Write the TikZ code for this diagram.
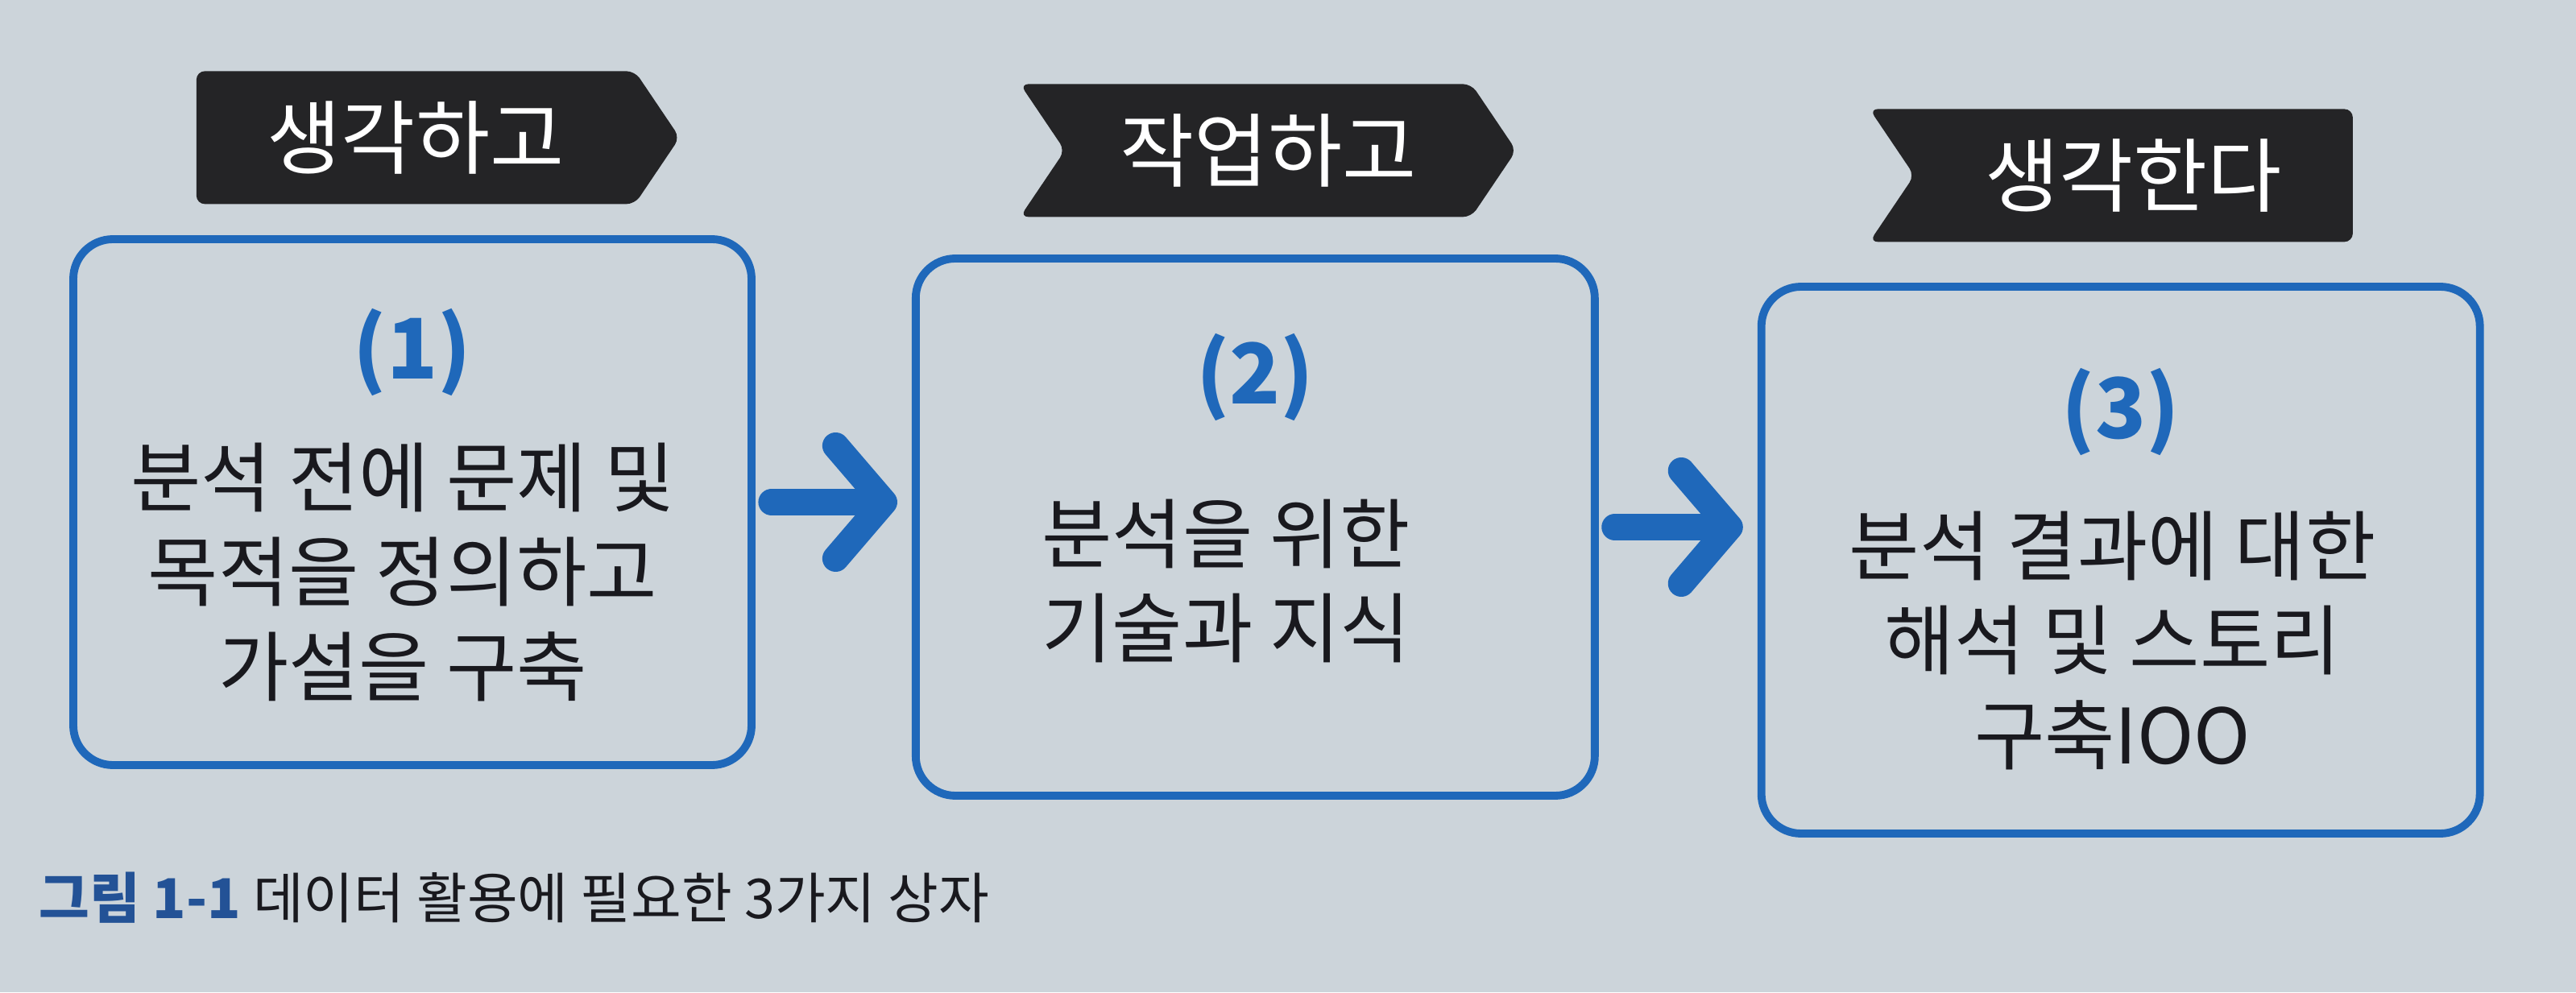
\documentclass[tikz,border=0pt]{standalone}
\usepackage{fontspec}
\setmainfont{Noto Sans CJK KR}
\definecolor{pagebg}{RGB}{204, 212, 218}
\definecolor{boxblue}{RGB}{31, 104, 186}
\definecolor{tagblack}{RGB}{36, 36, 38}
\definecolor{capblue}{RGB}{35, 82, 150}
\definecolor{inkblack}{RGB}{25, 25, 30}
\usetikzlibrary{arrows.meta, positioning, shapes.symbols}
\tikzset{
	stepbox/.style={rectangle, rounded corners=14pt, draw=boxblue, line width=2.8pt, minimum width=8.42cm, minimum height=6.6cm, inner sep=0pt},
	tag/.style={signal, signal to=east, signal pointer angle=112, fill=tagblack, text=white, minimum width=6cm, minimum height=1.65cm, inner sep=0pt, rounded corners=3pt, font=\fontsize{28.5}{32}\selectfont},
	number/.style={text=boxblue, font=\fontsize{29.5}{34}\selectfont\bfseries},
	bodytext/.style={align=center, text=inkblack, font=\fontsize{27}{33.5}\selectfont},
	arrow/.style={-{Straight Barb[length=6mm, width=14mm, round]}, line width=9.4pt, line cap=round, draw=boxblue},
	capt/.style={anchor=west, text=inkblack, font=\fontsize{19.4}{22}\selectfont},
}

\begin{document}
\begin{tikzpicture}
		\fill[pagebg] (0,0) rectangle (31.98,12.32);
		\useasboundingbox (0,0) rectangle (31.98,12.32);
		\node[stepbox, minimum height=6.53cm] (box1) at (5.12,6.085) {};
		\node[stepbox, right=1.94cm of box1, yshift=-3.1mm, minimum width=8.43cm, minimum height=6.67cm] (box2) {};
		\node[stepbox, right=1.97cm of box2, yshift=-4.1mm, minimum width=8.92cm, minimum height=6.79cm] (box3) {};
		\node[tag, above=3.8mm of box1, xshift=0.4mm] (think) {생각하고};
		\node[tag, signal from=west, minimum width=6.16cm, above=4.6mm of box2, xshift=1.6mm] (work) {작업하고};
		\node[tag, signal to=nowhere, signal from=west, above=5mm of box3, xshift=1.6mm] (rethink) {생각한다};
		\node[number] (num1) at ([yshift=-14.5mm]box1.north) {(1)};
		\node[number] (num2) at ([yshift=-15.2mm]box2.north) {(2)};
		\node[number] (num3) at ([yshift=-16mm]box3.north) {(3)};
		\node[bodytext] (txt1) at ([xshift=-1.2mm, yshift=-8.7mm]box1.center) {분석 전에 문제 및\\목적을 정의하고\\가설을 구축};
		\node[bodytext] (txt2) at ([xshift=-3.6mm, yshift=-6.7mm]box2.center) {분석을 위한\\기술과 지식};
		\node[bodytext] (txt3) at ([xshift=-1mm, yshift=-10mm]box3.center) {분석 결과에 대한\\해석 및 스토리\\구축IOO};
		\draw[arrow, shorten <=2mm, shorten >=1.8mm] (box1.east) -- (box1.east -| box2.west);
		\draw[arrow, shorten <=2mm, shorten >=1.8mm] (box2.east) -- (box2.east -| box3.west);
		\node[capt] (caption) at ([xshift=-5mm, yshift=-16mm]box1.south west) {\textcolor{capblue}{\bfseries 그림 1-1} 데이터 활용에 필요한 3가지 상자};
	\end{tikzpicture}
\end{document}
